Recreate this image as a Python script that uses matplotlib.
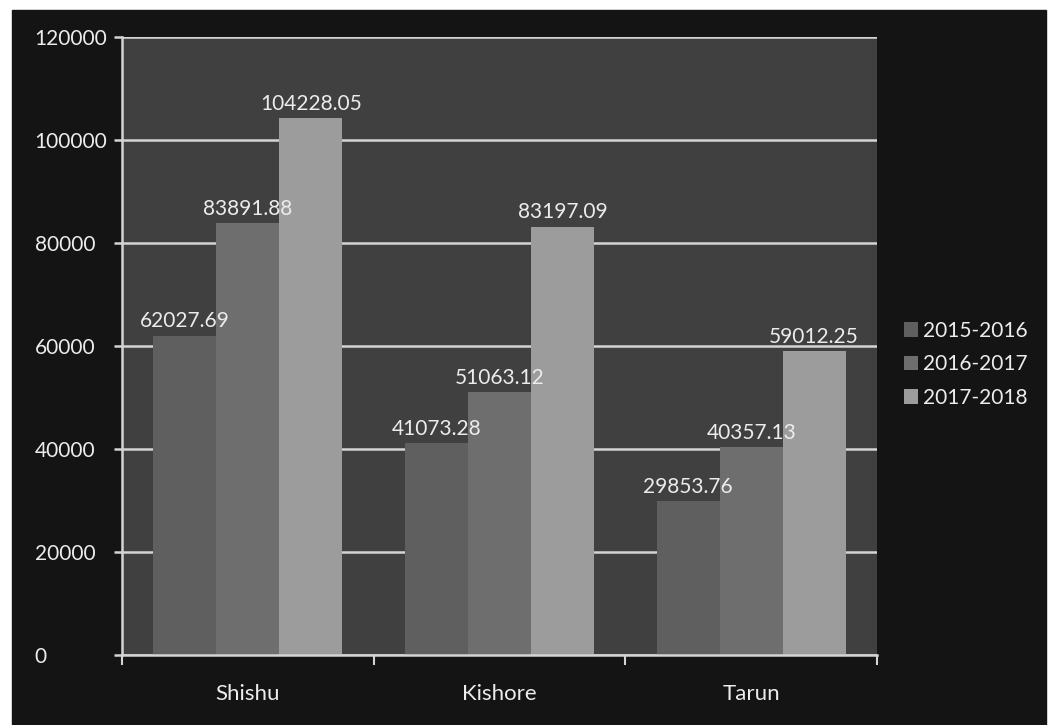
import numpy as np
import matplotlib
matplotlib.use("Agg")
import matplotlib.pyplot as plt
from matplotlib.patches import Rectangle

plt.rcParams['font.family'] = ['Lato', 'DejaVu Sans']

categories = ["Shishu", "Kishore", "Tarun"]
years = ["2015-2016", "2016-2017", "2017-2018"]
v_2015 = [62027.69, 41073.28, 29853.76]
v_2016 = [83891.88, 51063.12, 40357.13]
v_2017 = [104228.05, 83197.09, 59012.25]
series = [v_2015, v_2016, v_2017]
colors = ['#5f5f5f', '#6e6e6e', '#9c9c9c']
txt = '#ececec'
line_c = '#d4d4d4'

fig = plt.figure(figsize=(10.53, 7.25), dpi=100)
fig.patch.set_facecolor('white')
# dark scanned page background
fig.patches.append(Rectangle((12/1053, 0), (1046-12)/1053, (725-10)/725,
                             transform=fig.transFigure, color='#141414', zorder=-10))

ax = fig.add_axes([122/1053, 1-655/725, 755/1053, (655-37)/725])
ax.set_facecolor('#404040')

x = np.arange(len(categories))
w = 0.25
for i, (vals, lab) in enumerate(zip(series, years)):
    bars = ax.bar(x + (i - 1)*w, vals, w, color=colors[i], label=lab, zorder=2)
    ax.bar_label(bars, fmt='%.2f', padding=3, color=txt, fontsize=15)

ax.set_xlim(-0.5, 2.5)
ax.set_ylim(0, 120000)
ax.set_yticks(np.arange(0, 120001, 20000))
ax.grid(axis='y', color=line_c, linewidth=1.8, zorder=1)
ax.set_axisbelow(True)

for s in ['top', 'right']:
    ax.spines[s].set_visible(False)
for s in ['left', 'bottom']:
    ax.spines[s].set_color(line_c)
    ax.spines[s].set_linewidth(1.8)

ax.tick_params(axis='y', colors=line_c, length=6, width=1.8, pad=57, labelsize=15, labelcolor=txt)
for t in ax.get_yticklabels():
    t.set_horizontalalignment('left')

ax.set_xticks(x)
ax.set_xticklabels(categories)
ax.set_xticks(np.arange(-0.5, 2.6, 1), minor=True)
ax.tick_params(axis='x', which='major', length=0, pad=21, labelsize=16, labelcolor=txt)
ax.tick_params(axis='x', which='minor', length=7, width=1.5, colors=line_c)

leg = ax.legend(loc='upper left', bbox_to_anchor=(885/1053, 1-302/725),
                bbox_transform=fig.transFigure, frameon=False, fontsize=15,
                handlelength=0.7, handleheight=0.7, handletextpad=0.2, labelspacing=0.65)
for t in leg.get_texts():
    t.set_color(txt)

fig.savefig('out.png', dpi=100, facecolor=fig.get_facecolor())
